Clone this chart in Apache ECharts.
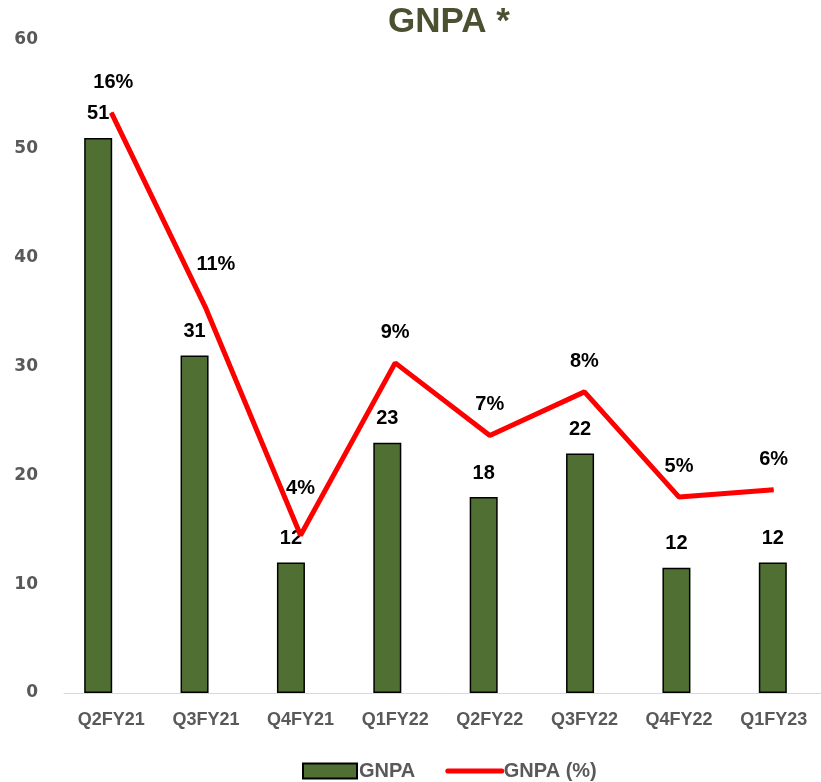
<!DOCTYPE html>
<html>
<head>
<meta charset="utf-8">
<script src="https://cdn.jsdelivr.net/npm/echarts@6/dist/echarts.min.js"></script>
<style>
html,body{margin:0;padding:0;background:#fff;}
#chart{width:821px;height:782px;}
</style>
</head>
<body>
<div id="chart"></div>
<script>
var categories = ['Q2FY21','Q3FY21','Q4FY21','Q1FY22','Q2FY22','Q3FY22','Q4FY22','Q1FY23'];
var gnpaValues = [51, 31, 12, 23, 18, 22, 11.5, 12];
var gnpaPctValues = [16.0, 10.6, 4.35, 9.1, 7.1, 8.3, 5.4, 5.6];
var yTicks = [0, 10, 20, 30, 40, 50, 60];

var FONT = '"Liberation Sans", Arial, sans-serif';
var grey = '#595959';

var pctLabelOffsets = {0: [2, 0], 1: [10, -13], 2: [0, -16]};

var chart = echarts.init(document.getElementById('chart'));
chart.setOption({
  animation: false,
  backgroundColor: '#ffffff',
  title: {
    text: 'GNPA *',
    left: 383, top: 0,
    textStyle: {fontFamily: FONT, fontSize: 35, fontWeight: 'bold', color: '#4b5130'}
  },
  legend: {
    left: 297, top: 756,
    itemWidth: 54, itemHeight: 15, itemGap: 30,
    textStyle: {fontFamily: FONT, fontSize: 20, fontWeight: 'bold', color: grey, padding: [0,0,0,-3]},
    data: [
      {name: 'GNPA', icon: 'rect'},
      {name: 'GNPA (%)', itemStyle: {opacity: 0}, lineStyle: {width: 5, color: '#ff0000', cap: 'round'}}
    ]
  },
  grid: [
    {left: 50, width: 771, top: 40, bottom: 89},
    {left: 64, width: 771, top: 40, bottom: 89}
  ],
  xAxis: [
    {type: 'category', gridIndex: 0, data: categories, boundaryGap: true,
     axisLine: {show: false}, axisTick: {show: false}, axisLabel: {show: false}},
    {type: 'category', gridIndex: 1, data: categories, boundaryGap: true,
     axisLine: {show: true, lineStyle: {color: '#d9d9d9', width: 1}}, axisTick: {show: false},
     axisLabel: {fontFamily: FONT, fontSize: 18, fontWeight: 'bold', color: grey, margin: 18}}
  ],
  yAxis: [
    {type: 'value', gridIndex: 0, min: yTicks[0], max: yTicks[yTicks.length-1], interval: 10,
     splitLine: {show: false}, axisLine: {show: false}, axisTick: {show: false},
     axisLabel: {fontFamily: '"DejaVu Sans", Verdana, sans-serif', fontSize: 17, fontWeight: 'bold', color: grey, margin: 12}},
    {type: 'value', gridIndex: 1, min: 0, max: 18, show: false, splitLine: {show: false}}
  ],
  series: [
    {
      name: 'GNPA', type: 'bar', xAxisIndex: 0, yAxisIndex: 0,
      data: gnpaValues, barWidth: 28,
      itemStyle: {color: '#507033', borderColor: '#000', borderWidth: 1.5},
      label: {show: true, position: 'top', distance: 14,
        fontFamily: FONT, fontSize: 20, fontWeight: 'bold', color: '#000',
        formatter: function(p){ return Math.round(p.value); }}
    },
    {
      name: 'GNPA (%)', type: 'line', xAxisIndex: 1, yAxisIndex: 1,
      data: gnpaPctValues.map(function(v, i){
        var item = {value: v};
        if (pctLabelOffsets[i]) item.label = {offset: pctLabelOffsets[i]};
        return item;
      }),
      symbol: 'circle', symbolSize: 1, showSymbol: true,
      lineStyle: {color: '#ff0000', width: 5},
      itemStyle: {color: '#ff0000'},
      label: {show: true, position: 'top', distance: 20,
        fontFamily: FONT, fontSize: 20, fontWeight: 'bold', color: '#000',
        formatter: function(p){ return Math.round(p.value) + '%'; }},
      z: 3
    }
  ]
});
</script>
</body>
</html>
